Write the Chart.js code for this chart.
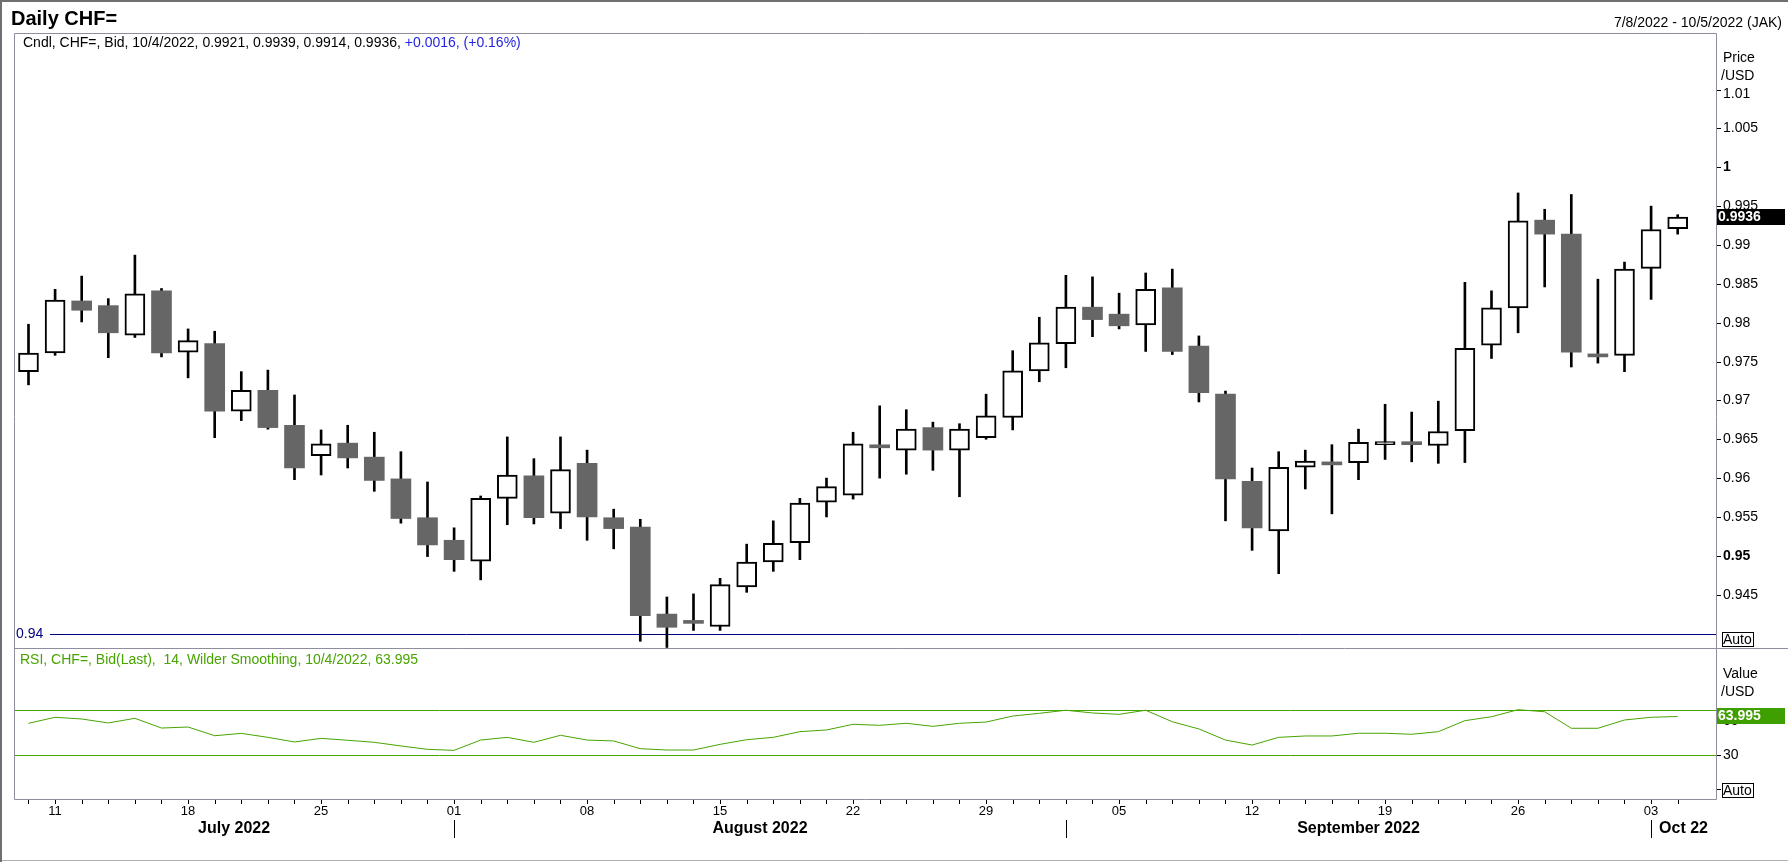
<!DOCTYPE html>
<html><head><meta charset="utf-8">
<script src="https://cdn.jsdelivr.net/npm/chart.js@4.4.1/dist/chart.umd.min.js"></script>
<style>html,body{margin:0;padding:0;background:#fff;overflow:hidden}canvas{display:block}</style>
</head><body>
<canvas id="c" width="1788" height="862"></canvas>
<script>
// ---------- DATA ----------
const dates = ['7/8','7/11','7/12','7/13','7/14','7/15','7/18','7/19','7/20','7/21','7/22','7/25','7/26','7/27','7/28','7/29',
 '8/1','8/2','8/3','8/4','8/5','8/8','8/9','8/10','8/11','8/12','8/15','8/16','8/17','8/18','8/19','8/22','8/23','8/24','8/25','8/26','8/29','8/30','8/31',
 '9/1','9/2','9/5','9/6','9/7','9/8','9/9','9/12','9/13','9/14','9/15','9/16','9/19','9/20','9/21','9/22','9/23','9/26','9/27','9/28','9/29','9/30',
 '10/3','10/4'];
const open = [.9737,.9761,.9828,.9822,.9784,.9841,.9762,.9773,.9686,.9713,
 .9668,.9629,.9645,.9627,.9599,.9549,.9520,.9493,.9574,.9603,
 .9555,.9619,.9549,.9537,.9425,.9415,.9409,.9460,.9492,.9517,
 .9569,.9578,.9640,.9636,.9665,.9636,.9652,.9678,.9738,.9773,
 .9820,.9811,.9797,.9845,.9770,.9708,.9596,.9532,.9614,.9618,
 .9620,.9643,.9644,.9642,.9661,.9771,.9819,.9932,.9914,.9757,
 .9758,.9870,.9921];
const high = [.9798,.9843,.9860,.9831,.9887,.9844,.9792,.9789,.9737,.9739,
 .9707,.9662,.9668,.9659,.9634,.9595,.9536,.9577,.9653,.9625,
 .9653,.9636,.9560,.9547,.9447,.9451,.9471,.9515,.9545,.9574,
 .9600,.9659,.9693,.9688,.9672,.9670,.9708,.9764,.9807,.9861,
 .9859,.9838,.9864,.9869,.9783,.9712,.9613,.9634,.9636,.9643,
 .9663,.9695,.9685,.9699,.9852,.9841,.9967,.9946,.9965,.9856,
 .9878,.9950,.9939];
const low = [.9720,.9758,.9801,.9755,.9781,.9756,.9729,.9652,.9674,.9663,
 .9598,.9604,.9613,.9583,.9542,.9499,.9480,.9469,.9540,.9541,
 .9535,.9520,.9509,.9390,.9382,.9404,.9404,.9453,.9480,.9495,
 .9550,.9573,.9600,.9605,.9610,.9576,.9650,.9662,.9724,.9742,
 .9782,.9792,.9763,.9759,.9698,.9545,.9507,.9477,.9586,.9554,
 .9598,.9624,.9621,.9619,.9620,.9754,.9787,.9846,.9743,.9748,
 .9737,.9830,.9914];
const close = [.9761,.9829,.9816,.9787,.9837,.9761,.9777,.9686,.9713,.9665,
 .9613,.9644,.9626,.9597,.9548,.9514,.9495,.9574,.9604,.9549,
 .9611,.9550,.9535,.9423,.9408,.9413,.9463,.9492,.9516,.9568,
 .9589,.9644,.9639,.9663,.9636,.9663,.9680,.9738,.9774,.9820,
 .9804,.9796,.9843,.9763,.9710,.9599,.9536,.9614,.9622,.9617,
 .9646,.9644,.9643,.9660,.9767,.9819,.9931,.9914,.9762,.9756,
 .9869,.9920,.9936];
const rsi = [58.0,63.3,61.8,58.3,62.4,53.8,54.7,47.0,49.1,45.6,
 41.5,44.7,43.0,41.2,38.0,35.0,34.1,43.2,45.6,41.2,
 47.4,43.2,42.4,35.6,34.4,34.4,39.4,43.5,45.6,50.6,
 52.1,57.1,56.2,58.0,55.3,58.0,59.1,64.4,66.8,69.5,
 67.1,65.9,69.5,59.4,53.0,43.2,38.8,45.6,46.8,46.8,
 49.2,49.2,48.3,50.6,60.3,63.8,70.0,68.2,53.6,53.6,
 60.9,63.3,63.995];
const priceTicks = [1.01,1.005,1,0.995,0.99,0.985,0.98,0.975,0.97,0.965,0.96,0.955,0.95,0.945];
const rsiTicks = [60,30,0];
const rsiBands = [70,30];
const refLevel = 0.94;
const dayTickIdx = [1,6,11,16,21,26,31,36,41,46,51,56,61];
const dayTickLabels = ['11','18','25','01','08','15','22','29','05','12','19','26','03'];
const monthStartIdx = [16,39,61];
const monthLabels = ['July 2022','August 2022','September 2022','Oct 22'];
const titleText = 'Daily CHF=';
const rangeText = '7/8/2022 - 10/5/2022 (JAK)';
const infoText = 'Cndl, CHF=, Bid, 10/4/2022, 0.9921, 0.9939, 0.9914, 0.9936, ';
const infoChange = '+0.0016, (+0.16%)';
const rsiText = 'RSI, CHF=, Bid(Last),  14, Wilder Smoothing, 10/4/2022, 63.995';

// ---------- STYLE / LAYOUT ----------
const FONT = '"Liberation Sans", Arial, sans-serif';
const FRAME = '#8e8e9e';
const GREEN = '#48a400';
const SPLIT_Y = 648;
const last = dates.length - 1;

const isUp = i => close[i] >= open[i];
const wickData = dates.map((d,i)=>({x:i, y:[low[i], high[i]]}));
const bodyData = dates.map((d,i)=>({x:i, y:[open[i], close[i]]}));
const rsiData = dates.map((d,i)=>({x:i, y:rsi[i]}));

function hline(ctx,x1,x2,y){ctx.beginPath();ctx.moveTo(x1,y);ctx.lineTo(x2,y);ctx.stroke();}
function vline(ctx,x,y1,y2){ctx.beginPath();ctx.moveTo(x,y1);ctx.lineTo(x,y2);ctx.stroke();}

const deco = {
  id:'deco',
  beforeDatasetsDraw(chart){
    const {ctx, chartArea:a, scales:{y, yr}} = chart;
    ctx.save();
    ctx.lineWidth = 1;
    const yRef = Math.round(y.getPixelForValue(refLevel)) + 0.5;
    ctx.strokeStyle = '#000080';
    hline(ctx, a.left + 36, a.right, yRef);
    ctx.fillStyle = '#000080';
    ctx.font = '14px ' + FONT; ctx.textBaseline = 'middle'; ctx.textAlign = 'left';
    ctx.fillText(refLevel.toFixed(2), a.left + 2, yRef);
    ctx.strokeStyle = GREEN;
    rsiBands.forEach(v => hline(ctx, a.left, a.right, Math.round(yr.getPixelForValue(v)) + 0.5));
    ctx.restore();
  },
  afterDraw(chart){
    const {ctx, chartArea:a, scales:{x, y, yr}} = chart;
    const W = chart.width, H = chart.height;
    ctx.save();
    ctx.lineWidth = 1;
    // outer border
    ctx.strokeStyle = '#b0b0b0';
    hline(ctx, 0, W, H - 1.5);
    ctx.strokeStyle = '#707070'; ctx.lineWidth = 2; hline(ctx, 0, W, 1); vline(ctx, 1, 0, H); ctx.lineWidth = 1;
    // plot frame
    ctx.strokeStyle = FRAME;
    const L = a.left + 0.5, R = a.right + 0.5, T = a.top + 0.5, B = a.bottom + 0.5;
    hline(ctx, L, R, T); vline(ctx, L, T, B); vline(ctx, R, T, B);
    hline(ctx, L, R, B); hline(ctx, L, W, SPLIT_Y + 0.5);

    // headers
    ctx.textAlign = 'left';
    ctx.fillStyle = '#000';
    ctx.textBaseline = 'alphabetic';
    ctx.font = 'bold 20px ' + FONT; ctx.fillText(titleText, 11, 25);
    ctx.font = '14px ' + FONT;
    ctx.textAlign = 'right'; ctx.fillText(rangeText, 1782, 27);
    ctx.textAlign = 'left';
    ctx.fillText(infoText, 23, 47);
    const iw = ctx.measureText(infoText).width;
    ctx.fillStyle = '#2424e0'; ctx.fillText(infoChange, 23 + iw, 47);
    ctx.textBaseline = 'middle';
    ctx.fillStyle = GREEN; ctx.fillText(rsiText, 20, 660);

    // right price axis
    ctx.fillStyle = '#000'; ctx.strokeStyle = '#000';
    ctx.fillText('Price', a.right + 7, 58);
    ctx.fillText('/USD', a.right + 5, 76);
    priceTicks.forEach(v => {
      const yy = Math.round(y.getPixelForValue(v)) + 0.5;
      hline(ctx, a.right + 1, a.right + 5, yy);
      const major = Math.abs(v * 20 - Math.round(v * 20)) < 1e-6;
      ctx.font = (major ? 'bold ' : '') + '14px ' + FONT;
      ctx.fillText(String(+v.toFixed(3)), a.right + 7, Math.max(yy, 94));
    });
    // RSI axis
    ctx.font = '14px ' + FONT;
    ctx.fillText('Value', a.right + 7, 674);
    ctx.fillText('/USD', a.right + 5, 692);
    rsiTicks.forEach(v => {
      const yy = Math.round(yr.getPixelForValue(v)) + 0.5;
      hline(ctx, a.right + 1, a.right + 5, yy);
      ctx.fillText(String(v), a.right + 7, yy);
    });

    // value tags
    const tag = (yy, bg, txt) => {
      ctx.fillStyle = bg; ctx.fillRect(a.right + 1, Math.round(yy) - 8, 68, 16);
      ctx.fillStyle = '#fff'; ctx.font = 'bold 14px ' + FONT; ctx.textAlign = 'left';
      ctx.fillText(txt, a.right + 2, Math.round(yy) + 0.5);
    };
    tag(y.getPixelForValue(close[last]), '#000', close[last].toFixed(4));
    tag(yr.getPixelForValue(rsi[last]), '#3f9e00', rsi[last].toFixed(3));

    // Auto boxes
    const auto = (yy) => {
      ctx.fillStyle = '#fff'; ctx.fillRect(a.right + 6, yy, 32, 15);
      ctx.strokeStyle = '#000'; ctx.strokeRect(a.right + 6.5, yy + 0.5, 31, 14);
      ctx.fillStyle = '#000'; ctx.font = '14px ' + FONT;
      ctx.fillText('Auto', a.right + 7, yy + 8);
    };
    auto(632); auto(783);

    // x axis
    ctx.strokeStyle = '#000'; ctx.fillStyle = '#000';
    dates.forEach((d,i) => {
      const xx = Math.round(x.getPixelForValue(i)) + 0.5;
      vline(ctx, xx, a.bottom + 1, a.bottom + 5);
    });
    ctx.textAlign = 'center'; ctx.font = '13px ' + FONT;
    dayTickIdx.forEach((k,j) => ctx.fillText(dayTickLabels[j], x.getPixelForValue(k), 811));
    const bounds = [a.left].concat(monthStartIdx.map(k => x.getPixelForValue(k)), [a.right]);
    monthStartIdx.forEach(k => { const xx = Math.round(x.getPixelForValue(k)) + 0.5; vline(ctx, xx, 820, 838); });
    ctx.font = 'bold 16px ' + FONT;
    monthLabels.forEach((m,j) => ctx.fillText(m, (bounds[j] + bounds[j+1]) / 2, 829));
    ctx.restore();
  }
};

new Chart(document.getElementById('c'), {
  type: 'bar',
  data: { datasets: [
    { type:'bar', data: wickData, yAxisID:'y', backgroundColor:'#000', borderWidth:0,
      barThickness:2, grouped:false, order:3, clip:{left:0, top:0, right:0, bottom:-151} },
    { type:'bar', data: bodyData, yAxisID:'y',
      backgroundColor: c => isUp(c.dataIndex) ? '#ffffff' : '#666666',
      borderColor: '#000000',
      borderWidth: c => isUp(c.dataIndex) ? 2 : 0,
      borderSkipped: false, barThickness:20, minBarLength:3, grouped:false, order:2,
      clip:{left:0, top:0, right:0, bottom:-151} },
    { type:'line', data: rsiData, yAxisID:'yr', borderColor: GREEN, borderWidth:1,
      pointRadius:0, tension:0, order:1, fill:false }
  ]},
  options: {
    responsive:false, animation:false, devicePixelRatio:1,
    layout: { padding: { left:14, top:33, right:72, bottom:63 } },
    plugins: { legend:{display:false}, tooltip:{enabled:false} },
    events: [],
    scales: {
      x: { type:'linear', min:-0.545, max:63.44, display:false, offset:false },
      y: { type:'linear', min:0.9187, max:1.017285, display:false },
      yr:{ type:'linear', min:-8.85, max:667.5, display:false }
    }
  },
  plugins: [deco]
});
</script>
</body></html>
